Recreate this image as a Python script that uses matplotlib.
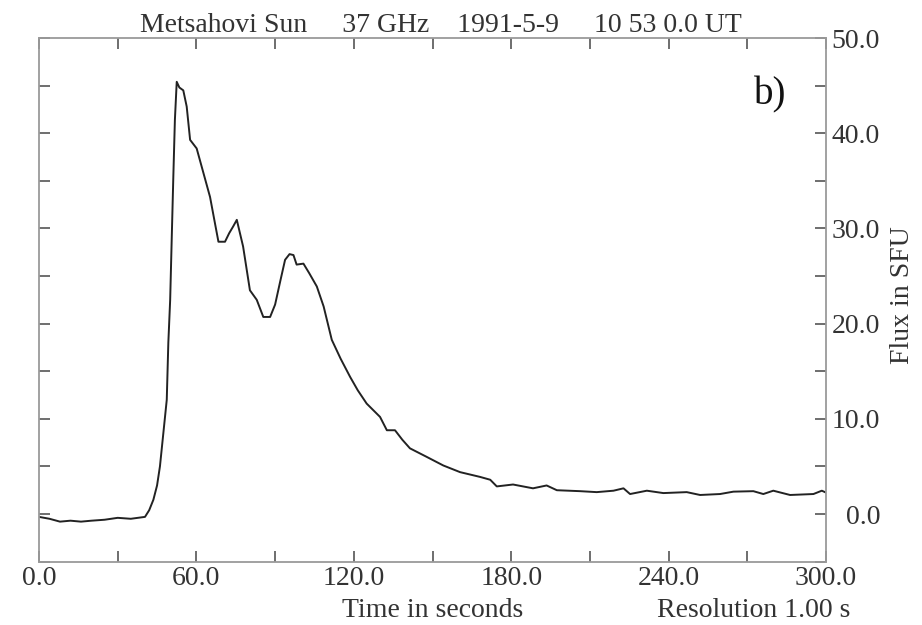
import matplotlib
matplotlib.use("Agg")
import matplotlib.pyplot as plt
from matplotlib.ticker import MultipleLocator, FixedLocator

plt.rcParams['font.family'] = ['Liberation Serif', 'DejaVu Serif']

# time (s) and flux (SFU)
time = [0, 4, 8, 12, 16, 20, 25, 30, 35, 40.4, 42, 43.6, 45, 46.1, 47.4, 48.7,
        49.3, 50, 50.6, 51.2, 51.8, 52.5, 53.5, 55, 56.3, 57.6, 60.1, 62.7, 65.2,
        67.1, 68.4, 70.9, 72.5, 74, 75.4, 77.8, 80.4, 83, 85.5, 88.1, 90, 92,
        93.8, 95.5, 97, 98.2, 100.8, 103, 105.9, 108.5, 111.6, 115, 118.6, 121.5,
        124.9, 130, 132.6, 135.7, 138.5, 141.4, 147.8, 154.1, 160.5, 168.1, 172,
        174.5, 180.7, 188.3, 193.5, 197.4, 206.3, 212.6, 219, 222.8, 225.3, 231.7,
        238, 246.9, 252, 259.6, 264.7, 272.3, 276.1, 279.9, 286.3, 295.2, 298.4, 300]
flux = [-0.3, -0.5, -0.8, -0.7, -0.8, -0.7, -0.6, -0.4, -0.5, -0.3, 0.4, 1.5, 3.0,
        5.0, 8.5, 12, 18, 22.5, 29, 35.4, 41.4, 45.4, 44.8, 44.5, 42.8, 39.3, 38.4,
        35.8, 33.3, 30.5, 28.6, 28.6, 29.5, 30.2, 30.9, 28.1, 23.5, 22.5, 20.7,
        20.7, 22, 24.5, 26.7, 27.3, 27.2, 26.2, 26.3, 25.3, 23.9, 21.8, 18.3, 16.3,
        14.4, 13, 11.6, 10.2, 8.8, 8.8, 7.8, 6.9, 6.0, 5.1, 4.4, 3.9, 3.6, 2.9,
        3.1, 2.7, 3.0, 2.5, 2.4, 2.3, 2.45, 2.7, 2.1, 2.45, 2.2, 2.3, 2.0, 2.1,
        2.35, 2.4, 2.1, 2.45, 2.0, 2.1, 2.45, 2.25]

xticks = [0, 60, 120, 180, 240, 300]
yticks = [0, 10, 20, 30, 40, 50]

txt = '#333333'
grey = '#9a9a9a'

fig = plt.figure(figsize=(9.22, 6.25), dpi=100)
ax = fig.add_axes([0.0423, 0.1014, 0.8536, 0.8378])

ax.plot(time, flux, color='#222222', lw=1.4)

ax.set_xlim(0, 300)
ax.set_ylim(-5, 50)

ax.xaxis.set_major_locator(FixedLocator(xticks))
ax.xaxis.set_minor_locator(MultipleLocator(30))
ax.set_xticklabels(['%.1f' % v for v in xticks])
ax.yaxis.set_major_locator(FixedLocator(yticks))
ax.yaxis.set_minor_locator(MultipleLocator(5))
ax.yaxis.tick_right()
ax.set_yticklabels(['%.1f' % v for v in yticks])

for s in ax.spines.values():
    s.set_color(grey)
    s.set_linewidth(1.3)

ax.tick_params(which='both', direction='in', length=8, width=1.2, color='#555555',
               top=True, bottom=True, left=True, right=True,
               labelsize=20, labelcolor=txt)
ax.tick_params(axis='x', which='major', pad=3)
ax.tick_params(axis='y', which='major', pad=39, labelleft=False, labelright=True)
for lab in ax.get_yticklabels():
    lab.set_horizontalalignment('right')

ax.set_title('Metsahovi Sun     37 GHz    1991-5-9     10 53 0.0 UT',
             fontsize=20, color=txt, x=0.511, pad=4)
ax.set_xlabel('Time in seconds', fontsize=20, color=txt)
ax.xaxis.set_label_coords(0.5, -0.07)
ax.text(1.031, -0.07, 'Resolution 1.00 s', transform=ax.transAxes,
        ha='right', va='top', fontsize=20, color=txt)
fig.text(902 / 922, 1 - 295 / 625, 'Flux in SFU', rotation=90,
         ha='center', va='center', fontsize=20, color=txt)
ax.text(0.929, 0.891, 'b)', transform=ax.transAxes, ha='center', va='center',
        fontsize=28, color='#111111')

fig.savefig('out.png', dpi=100)
